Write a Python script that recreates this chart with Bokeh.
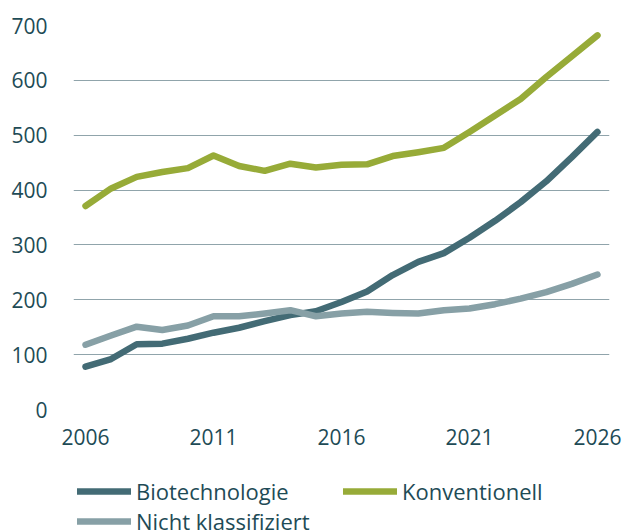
from bokeh.plotting import figure
from bokeh.layouts import column
from bokeh.models import Range1d, FixedTicker, Legend, LegendItem
from bokeh.embed import file_html
from bokeh.resources import INLINE

years = list(range(2006, 2027))
biotechnologie = [78, 92, 119, 120, 129, 140, 149, 161, 172, 179, 196, 215, 245, 269, 285, 313, 344, 378, 416, 460, 506]
konventionell = [371, 403, 424, 433, 440, 463, 444, 435, 448, 441, 446, 447, 462, 469, 477, 506, 536, 566, 606, 644, 682]
nicht_klassifiziert = [118, 135, 151, 145, 153, 170, 170, 175, 181, 170, 175, 178, 176, 175, 181, 184, 192, 202, 214, 229, 246]
x_ticks = [2006, 2011, 2016, 2021, 2026]
y_ticks = [0, 100, 200, 300, 400, 500, 600, 700]

TEXT = "#1e4b56"
FONT = "Open Sans"
COLORS = {"bio": "#436b75", "kon": "#97ab38", "nk": "#87a0a6"}
LW = 6.5

p = figure(width=625, height=462, output_backend="svg", toolbar_location=None,
           x_range=Range1d(2005.53, 2026.47), y_range=Range1d(0, 700),
           min_border_left=73, min_border_right=16, min_border_top=25, min_border_bottom=53)
p.outline_line_color = None

p.xgrid.visible = False
p.ygrid.ticker = FixedTicker(ticks=y_ticks)
p.ygrid.grid_line_color = "#90a4ab"
p.ygrid.grid_line_width = 1.2

for ax in (p.xaxis[0], p.yaxis[0]):
    ax.axis_line_color = None
    ax.major_tick_line_color = None
    ax.minor_tick_line_color = None
    ax.major_label_text_font = FONT
    ax.major_label_text_font_size = "21px"
    ax.major_label_text_color = TEXT
p.xaxis[0].ticker = FixedTicker(ticks=x_ticks)
p.yaxis[0].ticker = FixedTicker(ticks=y_ticks)
p.xaxis[0].major_label_standoff = 13
p.yaxis[0].major_label_standoff = 20

p.line(years, biotechnologie, line_color=COLORS["bio"], line_width=LW, line_cap="round", line_join="round")
p.line(years, konventionell, line_color=COLORS["kon"], line_width=LW, line_cap="round", line_join="round")
p.line(years, nicht_klassifiziert, line_color=COLORS["nk"], line_width=LW, line_cap="round", line_join="round")

# legend strip below the chart (its series lie outside its view; only the legend shows)
q = figure(width=625, height=69, output_backend="svg", toolbar_location=None,
           x_axis_location=None, y_axis_location=None,
           x_range=Range1d(0, 1), y_range=Range1d(0, 1),
           min_border_left=73, min_border_right=16, min_border_top=0, min_border_bottom=0)
q.outline_line_color = None
q.grid.visible = False
lb = q.line(years, biotechnologie, line_color=COLORS["bio"], line_width=LW, line_cap="round")
lk = q.line(years, konventionell, line_color=COLORS["kon"], line_width=LW, line_cap="round")
ln = q.line(years, nicht_klassifiziert, line_color=COLORS["nk"], line_width=LW, line_cap="round")

legend = Legend(items=[LegendItem(label="Biotechnologie", renderers=[lb]),
                       LegendItem(label="Konventionell", renderers=[lk]),
                       LegendItem(label="Nicht klassifiziert", renderers=[ln])],
                orientation="horizontal", ncols=2, location=(4, -5), spacing=0,
                padding=0, margin=0, border_line_color=None, background_fill_alpha=0,
                glyph_width=54, glyph_height=20, label_standoff=5, label_width=207,
                label_text_font=FONT, label_text_font_size="22px", label_text_color=TEXT)
q.add_layout(legend)

layout = column(p, q, spacing=0)
open("out.html", "w").write(file_html(layout, INLINE))
